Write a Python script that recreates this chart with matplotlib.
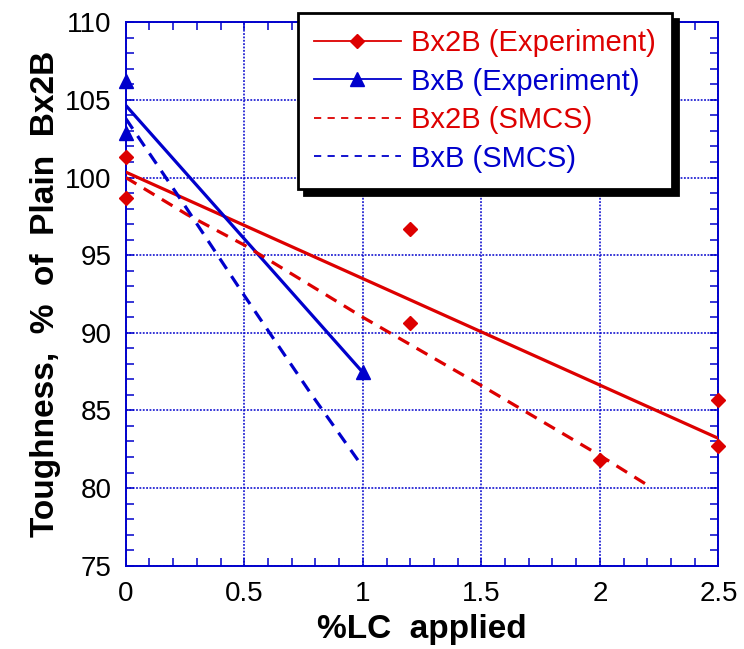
import numpy as np
import matplotlib
matplotlib.use("Agg")
import matplotlib.pyplot as plt
from matplotlib.lines import Line2D
from matplotlib.patches import Shadow
from matplotlib.ticker import MultipleLocator

plt.rcParams['font.family'] = ['Liberation Sans', 'DejaVu Sans']

RED = '#DD0000'
BLUE = '#0000CC'

# measured toughness values
lc_bx2b_exp = [0, 0, 1.2, 1.2, 2.0, 2.5, 2.5]
tough_bx2b_exp = [101.3, 98.7, 96.7, 90.6, 81.8, 85.7, 82.7]
lc_bxb_exp = [0, 0, 1.0]
tough_bxb_exp = [106.2, 102.85, 87.45]

# linear fits through the experiments
lc_bx2b_fit = [0, 2.5]
tough_bx2b_fit = [100.35, 83.2]
lc_bxb_fit = [0, 1.0]
tough_bxb_fit = [104.65, 87.45]

# SMCS predictions
lc_bx2b_smcs = [0, 0.26, 0.5, 1.0, 1.5, 2.0, 2.21]
tough_bx2b_smcs = [100.0, 97.6, 95.65, 91.0, 86.6, 82.1, 80.1]
lc_bxb_smcs = [0, 0.24, 0.5, 0.78, 1.0]
tough_bxb_smcs = [103.8, 98.4, 92.4, 86.1, 81.35]

labels = ['Bx2B (Experiment)', 'BxB (Experiment)', 'Bx2B (SMCS)', 'BxB (SMCS)']
label_colors = [RED, BLUE, RED, BLUE]

fig = plt.figure(figsize=(7.44, 6.49), dpi=100)
ax = fig.add_axes([0.169, 0.1284, 0.7966, 0.8373])

dash = (3.9, 2.7)
ax.plot(lc_bx2b_fit, tough_bx2b_fit, color=RED, lw=2.3, zorder=3)
ax.plot(lc_bxb_fit, tough_bxb_fit, color=BLUE, lw=2.3, zorder=3)
ax.plot(lc_bx2b_smcs, tough_bx2b_smcs, color=RED, lw=2.3, dashes=dash, zorder=3)
ax.plot(lc_bxb_smcs, tough_bxb_smcs, color=BLUE, lw=2.3, dashes=dash, zorder=3)
ax.plot(lc_bx2b_exp, tough_bx2b_exp, ls='none', marker='D', ms=7.6,
        color=RED, clip_on=False, zorder=4)
ax.plot(lc_bxb_exp, tough_bxb_exp, ls='none', marker='^', ms=10.5,
        color=BLUE, clip_on=False, zorder=4)

ax.set_xlim(0, 2.5)
ax.set_ylim(75, 110)
ax.xaxis.set_major_locator(MultipleLocator(0.5))
ax.xaxis.set_minor_locator(MultipleLocator(0.1))
ax.yaxis.set_major_locator(MultipleLocator(5))
ax.yaxis.set_minor_locator(MultipleLocator(1))
ax.set_xticks([0, 0.5, 1, 1.5, 2, 2.5], ['0', '0.5', '1', '1.5', '2', '2.5'])

ax.grid(True, which='major', color=BLUE, lw=1.1, ls=(0, (1.2, 1.0)))
ax.set_axisbelow(True)
for sp in ax.spines.values():
    sp.set_color(BLUE)
    sp.set_linewidth(1.4)
ax.tick_params(which='both', direction='in', top=True, right=True,
               color=BLUE, width=1.1, length=5.5, labelsize=20)
ax.tick_params(axis='x', pad=11)
ax.tick_params(axis='y', pad=10)

ax.set_xlabel('%LC  applied', fontsize=24, fontweight='bold', labelpad=5)
ax.set_ylabel('Toughness,  %  of  Plain  Bx2B', fontsize=24,
              fontweight='bold', labelpad=3)

handles = [
    Line2D([], [], color=RED, lw=1.3, marker='D', ms=7.5),
    Line2D([], [], color=BLUE, lw=1.3, marker='^', ms=10),
    Line2D([], [], color=RED, lw=1.3, dashes=(4, 3.5)),
    Line2D([], [], color=BLUE, lw=1.3, dashes=(4, 3.5)),
]
leg = ax.legend(handles, labels, loc='upper right', bbox_to_anchor=(0.922, 1.017),
                borderaxespad=0, fontsize=21, numpoints=1, handlelength=3.0,
                handletextpad=0.35, labelspacing=0.36, borderpad=0.55,
                fancybox=False, framealpha=1, edgecolor='black')
leg.get_frame().set_linewidth(2.0)
for txt, c in zip(leg.get_texts(), label_colors):
    txt.set_color(c)

# solid drop shadow behind the legend box
fig.canvas.draw()
shadow = Shadow(leg.legendPatch, 4.5, -4.5, facecolor='black',
                edgecolor='black', alpha=1, zorder=4.9)
ax.add_artist(shadow)
shadow.set_clip_on(False)

fig.savefig('out.png', dpi=100)
